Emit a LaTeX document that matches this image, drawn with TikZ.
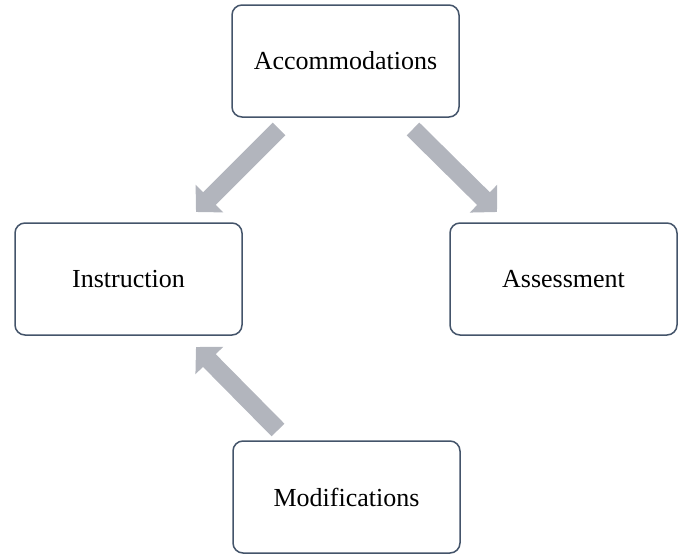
\documentclass[tikz,border=0pt]{standalone}
\usepackage{fontspec}
\setmainfont{Liberation Serif}
\usetikzlibrary{arrows.meta}
\definecolor{boxline}{RGB}{68,84,106}
\definecolor{arrowgray}{RGB}{178,181,189}
\begin{document}
\begin{tikzpicture}[x=1pt,y=1pt,
  box/.style={draw=boxline, line width=1.5pt, rounded corners=10pt, fill=white,
    minimum width=227pt, minimum height=112pt, inner sep=0pt,
    font=\fontsize{26}{30}\selectfont},
  blockarrow/.style={draw=arrowgray, line width=18pt, line cap=butt,
    -{Triangle[length=19pt,width=38pt]}}]
\useasboundingbox (0,0) rectangle (683,-554);
\node[box] (acc) at (345.5,-61) {Accommodations};
\node[box] (ins) at (128.5,-279) {Instruction};
\node[box] (ass) at (563.5,-279) {Assessment};
\node[box] (mod) at (346.5,-497) {Modifications};
\coordinate (a1s) at (279,-129);
\coordinate (a1e) at (196,-212);
\coordinate (a2s) at (413,-129);
\coordinate (a2e) at (497,-212);
\coordinate (a3s) at (278,-430);
\coordinate (a3e) at (196,-347);
\draw[blockarrow] (a1s) -- (a1e);
\draw[blockarrow] (a2s) -- (a2e);
\draw[blockarrow] (a3s) -- (a3e);
\end{tikzpicture}
\end{document}
